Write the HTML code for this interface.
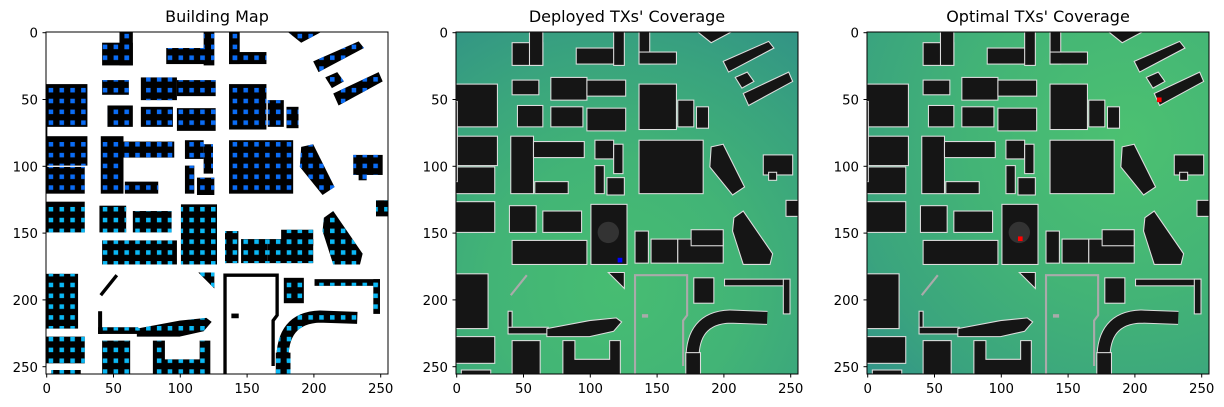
<!DOCTYPE html>
<html><head><meta charset="utf-8"><style>
html,body{margin:0;padding:0;background:#fff;}
svg{display:block;}
text{font-family:"DejaVu Sans","Liberation Sans",sans-serif;fill:#000;}
.t{font-size:13.3px;}
.ti{font-size:16px;}
</style></head><body>
<svg width="1224" height="407" viewBox="0 0 1224 407" xmlns="http://www.w3.org/2000/svg">
<defs>
<g id="bld">
  <rect x="42" y="8" width="23" height="17"/><rect x="55" y="0" width="10" height="25"/>
  <rect x="90" y="12" width="35" height="12"/><rect x="118" y="0" width="8" height="25"/>
  <rect x="137" y="0" width="8" height="24"/><rect x="137" y="15" width="28" height="9"/>
  <polygon points="181,0 206,0 191,8"/>
  <polygon points="200,22 234,7 238,12 204,30"/>
  <polygon points="209,34 218,30 223,37 214,42"/>
  <polygon points="215,46 249,30 252,37 219,55"/>
  <rect x="0" y="39" width="31" height="32"/>
  <rect x="42" y="36" width="20" height="11"/>
  <rect x="46" y="55" width="19" height="16"/>
  <rect x="71" y="34" width="27" height="17"/>
  <rect x="98" y="36" width="29" height="12"/>
  <rect x="71" y="56" width="24" height="15"/>
  <rect x="98" y="57" width="29" height="17"/>
  <rect x="137" y="39" width="28" height="34"/>
  <rect x="166" y="51" width="12" height="20"/><rect x="180" y="56" width="9" height="16"/>
  <rect x="0" y="78" width="31" height="22"/><rect x="0" y="101" width="29" height="20"/>
  <rect x="41" y="78" width="17" height="43"/><rect x="58" y="82" width="38" height="12"/>
  <rect x="59" y="112" width="25" height="9"/>
  <rect x="104" y="81" width="14" height="14"/><rect x="104" y="100" width="7" height="21"/>
  <rect x="113" y="109" width="13" height="13"/><rect x="118" y="84" width="7" height="22"/>
  <rect x="137" y="81" width="48" height="40"/>
  <polygon points="191,86 200,84 216,116 207,122 190,101"/>
  <rect x="230" y="92" width="22" height="15"/><rect x="234" y="105" width="6" height="6"/>
  <rect x="247" y="126" width="9" height="12"/>
  <rect x="0" y="127" width="29" height="23"/>
  <rect x="40" y="130" width="20" height="20"/>
  <rect x="65" y="134" width="29" height="16"/>
  <rect x="101" y="129" width="27" height="45"/>
  <rect x="42" y="156" width="56" height="18"/>
  <rect x="134" y="149" width="10" height="24"/><rect x="146" y="155" width="20" height="18"/><rect x="166" y="155" width="34" height="18"/><rect x="176" y="148" width="24" height="12"/>
  <polygon points="208,139 215,134 237,166 235,174 215,174 207,149"/>
  <rect x="0" y="181" width="24" height="41"/>
  <polygon points="114,180 126,180 126,192"/>
  <rect x="178" y="184" width="15" height="19"/>
  <rect x="201" y="185" width="49" height="5"/><rect x="245" y="185" width="5" height="26"/>
  <rect x="39" y="209" width="3" height="17"/><rect x="39" y="221" width="30" height="5"/>
  <polygon points="68,222 100,216 120,214 124,217 118,224 100,228 68,228"/>
  <rect x="172" y="240" width="11" height="16"/>
  <rect x="0" y="228" width="29" height="20"/>
  <rect x="42" y="231" width="21" height="25"/>
  <path d="M80,231 H89 V245 H115 V231 H123 V256 H80 Z"/>
  <rect x="4" y="253" width="22" height="3"/>
  <rect x="0" y="52" width="1" height="60"/>
</g>
<g id="lines" fill="none">
  <path d="M134,256 V182 H173 V212 L170,216 V250"/>
  <path d="M41,197 L53,182"/>
  <rect x="140" y="212" width="3" height="1"/>
</g>
<path id="arc" d="M177,247 Q176,214 205,213 L233,214" fill="none"/>
<pattern id="dots" patternUnits="userSpaceOnUse" x="2" y="1.35" width="8.1" height="8.1">
  <rect x="0" y="0" width="3.4" height="3.4" fill="#0a6cf5"/>
</pattern>
<pattern id="dots2" patternUnits="userSpaceOnUse" x="2" y="1.35" width="8.1" height="8.1">
  <rect x="0" y="0" width="3.4" height="3.4" fill="#0ab8f5"/>
</pattern>
<clipPath id="top"><rect x="0" y="0" width="256" height="125"/></clipPath>
<clipPath id="bot"><rect x="0" y="125" width="256" height="131"/></clipPath>
<clipPath id="ax"><rect x="0" y="0" width="256" height="256"/></clipPath>
<radialGradient id="g2" cx="120" cy="190" r="270" gradientUnits="userSpaceOnUse">
  <stop offset="0" stop-color="#47bd72"/><stop offset="0.35" stop-color="#42b476"/><stop offset="0.65" stop-color="#39a37e"/><stop offset="1" stop-color="#2e8a8a"/>
</radialGradient>
<radialGradient id="g3" cx="195" cy="80" r="260" gradientUnits="userSpaceOnUse">
  <stop offset="0" stop-color="#4cc171"/><stop offset="0.45" stop-color="#43b476"/><stop offset="0.8" stop-color="#3aa47e"/><stop offset="1" stop-color="#339588"/>
</radialGradient>
<g id="yt">
  <line x1="-3.5" y1="0.7" x2="0" y2="0.7"/><line x1="-3.5" y1="67.5" x2="0" y2="67.5"/><line x1="-3.5" y1="134.3" x2="0" y2="134.3"/><line x1="-3.5" y1="201.1" x2="0" y2="201.1"/><line x1="-3.5" y1="267.9" x2="0" y2="267.9"/><line x1="-3.5" y1="334.7" x2="0" y2="334.7"/>
  <line y1="342" y2="345.5" x1="0.7" x2="0.7"/><line y1="342" y2="345.5" x1="67.5" x2="67.5"/><line y1="342" y2="345.5" x1="134.3" x2="134.3"/><line y1="342" y2="345.5" x1="201.1" x2="201.1"/><line y1="342" y2="345.5" x1="267.9" x2="267.9"/><line y1="342" y2="345.5" x1="334.7" x2="334.7"/>
</g>
</defs>

<g transform="translate(46,32) scale(1.336)">
  <rect width="256" height="256" fill="#fff"/>
  <g clip-path="url(#ax)">
  <use href="#bld" fill="#000"/>
  <use href="#lines" stroke="#000" stroke-width="2.5"/>
  <use href="#arc" stroke="#000" stroke-width="9"/>
  <g clip-path="url(#top)"><use href="#bld" fill="url(#dots)"/></g>
  <g clip-path="url(#bot)"><use href="#bld" fill="url(#dots2)"/><use href="#arc" stroke="url(#dots2)" stroke-width="9"/></g>
  </g>
</g>
<g transform="translate(456,32) scale(1.336)">
  <rect width="256" height="256" fill="url(#g2)"/>
  <g clip-path="url(#ax)">
  <use href="#arc" stroke="#ddd" stroke-width="10.5"/>
  <use href="#arc" stroke="#151515" stroke-width="9"/>
  <use href="#bld" fill="#151515" stroke="#ddd" stroke-width="0.8"/>
  <use href="#lines" stroke="#aaa" stroke-width="1.6"/>
  <circle cx="114" cy="150" r="8" fill="#333"/>
  <rect x="121" y="169" width="3.5" height="3.5" fill="#0000ff"/>
  </g>
</g>
<g transform="translate(867,32) scale(1.336)">
  <rect width="256" height="256" fill="url(#g3)"/>
  <g clip-path="url(#ax)">
  <use href="#arc" stroke="#ddd" stroke-width="10.5"/>
  <use href="#arc" stroke="#151515" stroke-width="9"/>
  <use href="#bld" fill="#151515" stroke="#ddd" stroke-width="0.8"/>
  <use href="#lines" stroke="#aaa" stroke-width="1.6"/>
  <circle cx="114" cy="150" r="8" fill="#333"/>
  <rect x="113" y="153" width="3.5" height="3.5" fill="#ff0000"/>
  <rect x="217" y="49" width="3.5" height="3.5" fill="#ff0000"/>
  </g>
</g>

<g fill="none" stroke="#000" stroke-width="1">
  <rect x="46" y="32" width="342" height="342"/>
  <rect x="456" y="32" width="342" height="342"/>
  <rect x="867" y="32" width="342" height="342"/>
  <use href="#yt" transform="translate(46,32)"/>
  <use href="#yt" transform="translate(456,32)"/>
  <use href="#yt" transform="translate(867,32)"/>
</g>

<text class="ti" x="217" y="22" text-anchor="middle">Building Map</text>
<text class="ti" x="627" y="22" text-anchor="middle">Deployed TXs' Coverage</text>
<text class="ti" x="1038" y="22" text-anchor="middle">Optimal TXs' Coverage</text>

<g class="t" text-anchor="end">
  <text x="38" y="37.5">0</text><text x="38" y="104.5">50</text><text x="38" y="171.5">100</text><text x="38" y="238">150</text><text x="38" y="305">200</text><text x="38" y="372">250</text>
  <text x="448" y="37.5">0</text><text x="448" y="104.5">50</text><text x="448" y="171.5">100</text><text x="448" y="238">150</text><text x="448" y="305">200</text><text x="448" y="372">250</text>
  <text x="859" y="37.5">0</text><text x="859" y="104.5">50</text><text x="859" y="171.5">100</text><text x="859" y="238">150</text><text x="859" y="305">200</text><text x="859" y="372">250</text>
</g>
<g class="t" text-anchor="middle">
  <text x="46.7" y="393">0</text><text x="113.5" y="393">50</text><text x="180.3" y="393">100</text><text x="247.1" y="393">150</text><text x="313.9" y="393">200</text><text x="380.7" y="393">250</text>
  <text x="456.7" y="393">0</text><text x="523.5" y="393">50</text><text x="590.3" y="393">100</text><text x="657.1" y="393">150</text><text x="723.9" y="393">200</text><text x="790.7" y="393">250</text>
  <text x="867.7" y="393">0</text><text x="934.5" y="393">50</text><text x="1001.3" y="393">100</text><text x="1068.1" y="393">150</text><text x="1134.9" y="393">200</text><text x="1201.7" y="393">250</text>
</g>
</svg>
</body></html>
